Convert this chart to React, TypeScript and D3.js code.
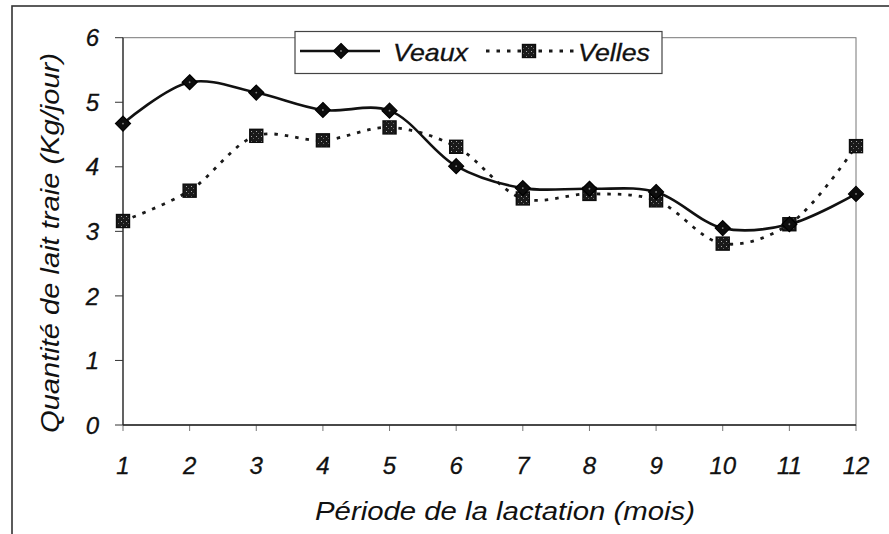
import React from "react";
import * as d3 from "d3";

const months = [1, 2, 3, 4, 5, 6, 7, 8, 9, 10, 11, 12];
const veaux = [4.67, 5.31, 5.15, 4.88, 4.87, 4.01, 3.67, 3.66, 3.61, 3.05, 3.11, 3.58];
const velles = [3.16, 3.63, 4.48, 4.41, 4.61, 4.31, 3.51, 3.58, 3.48, 2.81, 3.11, 4.32];
const yTicks = [0, 1, 2, 3, 4, 5, 6];
const seriesNames = ["Veaux", "Velles"];
const xTitle = "Période de la lactation (mois)";
const yTitle = "Quantité de lait traie (Kg/jour)";

const W = 889;
const H = 534;
const FONT = "'Liberation Sans', Arial, Helvetica, sans-serif";

export default function App() {
  const x = d3.scaleLinear().domain([1, 12]).range([123, 856]);
  const y = d3.scaleLinear().domain([0, 6]).range([425, 37.7]);

  const line = d3
    .line<number>()
    .x((_, i) => x(months[i]))
    .y((d) => y(d))
    .curve(d3.curveCatmullRom.alpha(0.5));

  const diamond = (cx: number, cy: number, r: number) =>
    `M${cx},${cy - r}L${cx + r},${cy}L${cx},${cy + r}L${cx - r},${cy}Z`;

  const DiamondMarker = ({ cx, cy }: { cx: number; cy: number }) => (
    <g>
      <path d={diamond(cx, cy, 7.5)} fill="#0d0d0d" stroke="#000" strokeWidth={1.2} />
      <circle cx={cx} cy={cy} r={0.9} fill="#888" />
    </g>
  );
  const SquareMarker = ({ cx, cy }: { cx: number; cy: number }) => (
    <g>
      <rect x={cx - 6.5} y={cy - 6.5} width={13} height={13} fill="url(#speckle)" stroke="#0d0d0d" strokeWidth={1.4} />
    </g>
  );

  const [x0, x1] = x.range();
  const [y0, y1] = y.range();

  const textStyle = { paintOrder: "stroke" as const };

  return (
    <div style={{ position: "fixed", left: 0, top: 0, width: W, height: H, background: "#fff" }}>
      <svg width={W} height={H} style={{ display: "block", fontFamily: FONT }}>
        <defs>
          <pattern id="speckle" width="5" height="5" patternUnits="userSpaceOnUse">
            <rect width="5" height="5" fill="#1a1a1a" />
            <rect x="1" y="1" width="1" height="1" fill="#aaa" />
            <rect x="3" y="3" width="1" height="1" fill="#666" />
          </pattern>
        </defs>
        <rect x={0} y={0} width={W} height={H} fill="#fff" />
        {/* outer frame */}
        <rect x={12} y={6} width={W + 10} height={H + 10} fill="none" stroke="#333" strokeWidth={1.6} />

        {/* plot area border */}
        <rect x={x0} y={y1} width={x1 - x0} height={y0 - y1} fill="none" stroke="#777" strokeWidth={1} />

        {/* y ticks + labels */}
        {yTicks.map((t) => (
          <g key={`y${t}`}>
            <line x1={x0 - 8} x2={x0} y1={y(t)} y2={y(t)} stroke="#333" strokeWidth={1} />
            <text
              x={99}
              y={y(t)}
              dy="0.36em"
              textAnchor="end"
              fontSize={24}
              fontStyle="italic"
              fill="#111"
              stroke="#111"
              strokeWidth={0.3}
              style={textStyle}
            >
              {t}
            </text>
          </g>
        ))}

        {/* x ticks + labels */}
        {months.map((m) => (
          <g key={`x${m}`}>
            <line x1={x(m)} x2={x(m)} y1={y0} y2={y0 + 6} stroke="#777" strokeWidth={1} />
            <text
              x={x(m)}
              y={474}
              textAnchor="middle"
              fontSize={24}
              fontStyle="italic"
              fill="#111"
              stroke="#111"
              strokeWidth={0.3}
              style={textStyle}
            >
              {m}
            </text>
          </g>
        ))}

        {/* axis lines */}
        <line x1={x0} x2={x0} y1={y1} y2={y0} stroke="#333" strokeWidth={1.3} />
        <line x1={x0} x2={x1} y1={y0} y2={y0} stroke="#222" strokeWidth={1.5} />

        {/* series */}
        <path d={line(velles) || ""} fill="none" stroke="#1a1a1a" strokeWidth={2.8} strokeDasharray="3.5 7" />
        <path d={line(veaux) || ""} fill="none" stroke="#111" strokeWidth={2.6} />
        {velles.map((v, i) => (
          <SquareMarker key={`vs${i}`} cx={x(months[i])} cy={y(v)} />
        ))}
        {veaux.map((v, i) => (
          <DiamondMarker key={`vd${i}`} cx={x(months[i])} cy={y(v)} />
        ))}

        {/* legend */}
        <rect x={295} y={31.5} width={367} height={42} fill="#fff" stroke="#444" strokeWidth={1.2} />
        <line x1={300} x2={380} y1={51} y2={51} stroke="#111" strokeWidth={2.6} />
        <DiamondMarker cx={341} cy={51} />
        <text
          x={393}
          y={61}
          fontSize={24}
          fontStyle="italic"
          fill="#111"
          stroke="#111"
          strokeWidth={0.3}
          style={textStyle}
          textLength={75}
          lengthAdjust="spacingAndGlyphs"
        >
          {seriesNames[0]}
        </text>
        <line x1={486} x2={575} y1={51} y2={51} stroke="#1a1a1a" strokeWidth={2.8} strokeDasharray="3.5 7" />
        <SquareMarker cx={529} cy={51} />
        <text
          x={578}
          y={61}
          fontSize={24}
          fontStyle="italic"
          fill="#111"
          stroke="#111"
          strokeWidth={0.3}
          style={textStyle}
          textLength={72}
          lengthAdjust="spacingAndGlyphs"
        >
          {seriesNames[1]}
        </text>

        {/* axis titles */}
        <text
          x={505}
          y={520}
          textAnchor="middle"
          fontSize={25}
          fontStyle="italic"
          fill="#111"
          textLength={380}
          lengthAdjust="spacingAndGlyphs"
        >
          {xTitle}
        </text>
        <text
          transform="translate(59,243) rotate(-90)"
          textAnchor="middle"
          fontSize={25}
          fontStyle="italic"
          fill="#111"
          textLength={380}
          lengthAdjust="spacingAndGlyphs"
        >
          {yTitle}
        </text>
      </svg>
    </div>
  );
}
